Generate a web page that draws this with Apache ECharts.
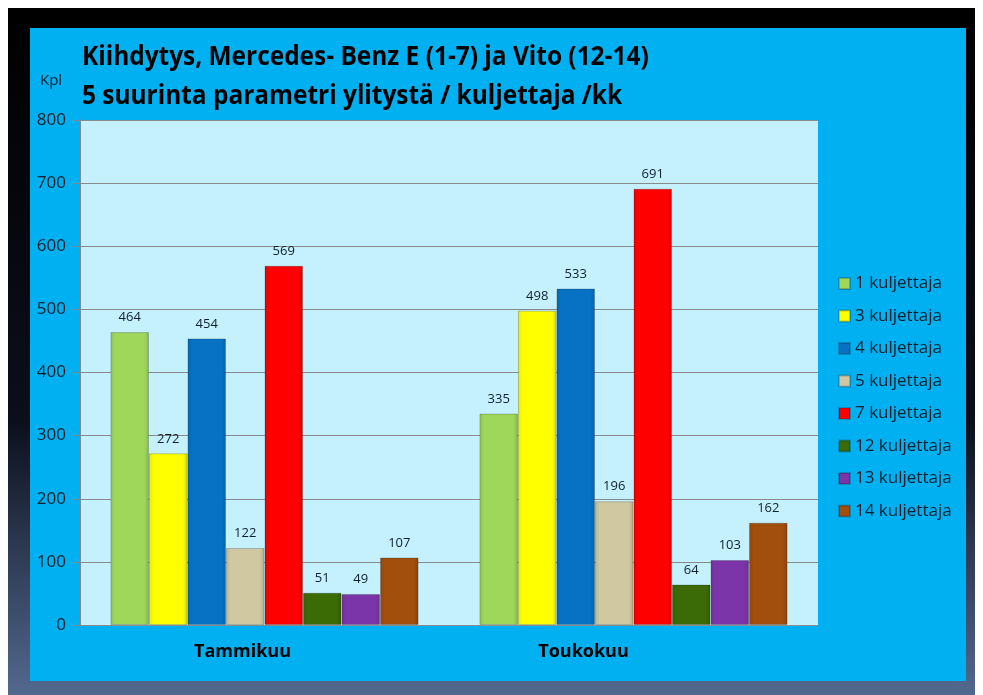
<!DOCTYPE html>
<html><head><meta charset="utf-8">
<script src="https://cdn.jsdelivr.net/npm/echarts@6/dist/echarts.min.js"></script>
<style>html,body{margin:0;padding:0;background:#fff;}#c{width:983px;height:695px;}</style>
</head><body><div id="c"></div>
<script>
const categories = ['Tammikuu', 'Toukokuu'];
const seriesNames = ['1 kuljettaja','3 kuljettaja','4 kuljettaja','5 kuljettaja','7 kuljettaja','12 kuljettaja','13 kuljettaja','14 kuljettaja'];
const d1 = [464, 335];
const d3 = [272, 498];
const d4 = [454, 533];
const d5 = [122, 196];
const d7 = [569, 691];
const d12 = [51, 64];
const d13 = [49, 103];
const d14 = [107, 162];
const yTicks = [0,100,200,300,400,500,600,700,800];
const values = [d1,d3,d4,d5,d7,d12,d13,d14];
const colors = ['#9ED75A','#FFFF00','#0772C4','#CFC8A0','#FF0000','#3B6B05','#7B35A8','#A24E0C'];
const FONT = '"Open Sans",sans-serif';

function shade(hex, f) {
  const n = parseInt(hex.slice(1), 16);
  const r = Math.round(((n >> 16) & 255) * f), g = Math.round(((n >> 8) & 255) * f), b = Math.round((n & 255) * f);
  return 'rgb(' + Math.min(r,255) + ',' + Math.min(g,255) + ',' + Math.min(b,255) + ')';
}

const chart = echarts.init(document.getElementById('c'));
chart.setOption({
  animation: false,
  textStyle: {fontFamily: FONT},
  graphic: [
    {type:'rect', z:-10, shape:{x:8,y:8,width:967,height:687},
     style:{fill:new echarts.graphic.LinearGradient(0,0,0,1,[{offset:0,color:'#000000'},{offset:0.6,color:'#0b0f1a'},{offset:1,color:'#52698f'}])}},
    {type:'rect', z:-9, shape:{x:30,y:28,width:936,height:653}, style:{fill:'#00B0F0'}},
    {type:'text', x:82, y:45, scaleX:0.94, style:{text:'Kiihdytys, Mercedes- Benz E (1-7) ja Vito (12-14)', fill:'#000', font:'bold 26px '+FONT}},
    {type:'text', x:82, y:84, scaleX:0.94, style:{text:'5 suurinta parametri ylitystä / kuljettaja /kk', fill:'#000', font:'bold 26px '+FONT}},
    {type:'text', x:40, y:73, style:{text:'Kpl', fill:'#10202e', font:'15px '+FONT}}
  ],
  grid: {left:80, right:165, top:120, bottom:70, show:true, backgroundColor:'#C5F0FD', borderWidth:0},
  legend: {
    orient:'vertical', left:833, top:270, itemGap:15.5, itemWidth:11, itemHeight:11,
    icon:'rect', textStyle:{fontSize:17, color:'#10202e', fontFamily:FONT},
    data: seriesNames
  },
  xAxis: {
    type:'category', data:categories,
    axisLine:{show:false}, axisTick:{show:false},
    axisLabel:{fontSize:18, fontWeight:'bold', color:'#000', margin:18, fontFamily:FONT,
      formatter:(v,i)=>'{l'+i+'|'+v+'}',
      rich:{
        l0:{fontSize:18, fontWeight:'bold', color:'#000', padding:[0,44,0,0]},
        l1:{fontSize:18, fontWeight:'bold', color:'#000', padding:[0,100,0,0]}
      }}
  },
  yAxis: {
    type:'value', min:0, max:800, interval:100,
    axisLine:{show:true, lineStyle:{color:'#888'}},
    axisTick:{show:true, length:6, inside:false, lineStyle:{color:'#888'}},
    axisLabel:{fontSize:17, color:'#10202e', margin:14, fontFamily:FONT,
      formatter: v => yTicks.includes(v) ? String(v) : ''},
    splitLine:{lineStyle:{color:'#8a8a8a', width:1}}
  },
  series: seriesNames.map((n,i)=>({
    name:n, type:'bar', data:values[i], barGap:'0%', barCategoryGap:'16.5%',
    itemStyle:{
      color:new echarts.graphic.LinearGradient(0,0,1,0,[
        {offset:0,color:shade(colors[i],0.9)},{offset:0.12,color:colors[i]},{offset:0.88,color:colors[i]},{offset:1,color:shade(colors[i],0.85)}]),
      borderColor:'rgba(0,0,0,0.2)', borderWidth:1
    },
    label:{show:true, position:'top', distance:8, fontSize:13, color:'#10202e', fontFamily:FONT}
  }))
});
</script></body></html>
